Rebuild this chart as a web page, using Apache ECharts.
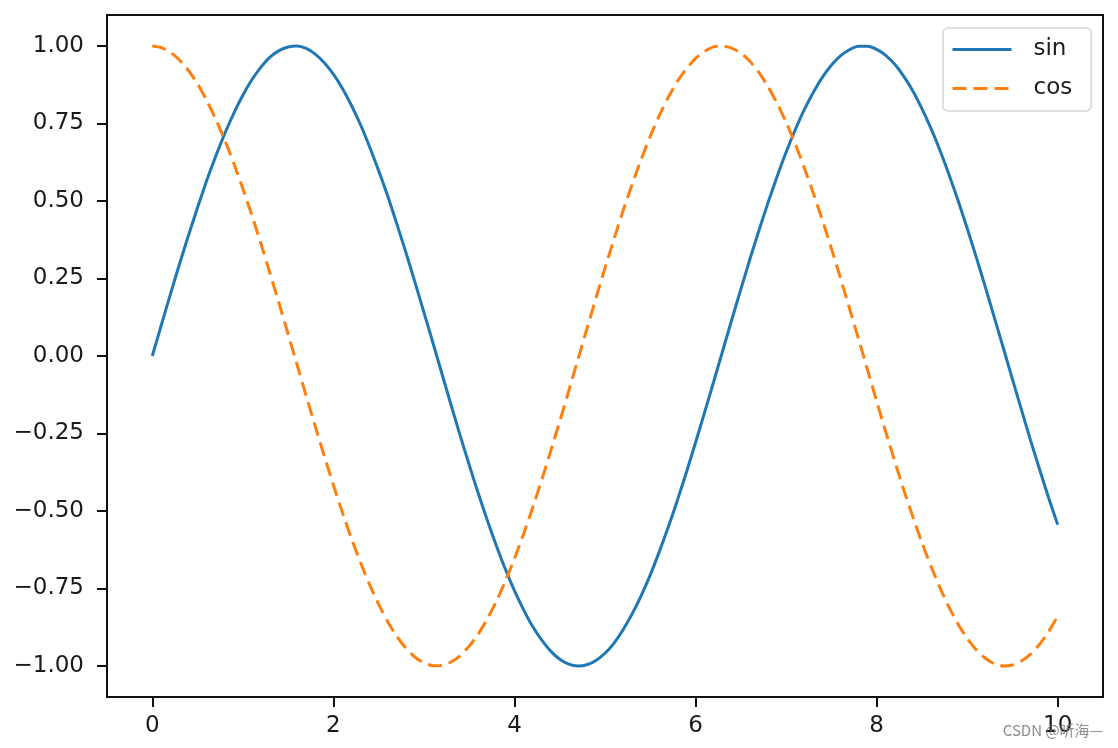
<!DOCTYPE html>
<html>
<head>
<meta charset="utf-8">
<script src="https://cdn.jsdelivr.net/npm/echarts@6/dist/echarts.min.js"></script>
<style>
html,body{margin:0;padding:0;background:#fff;}
#chart{width:1118px;height:748px;}
</style>
</head>
<body>
<div id="chart"></div>
<script>
const xValues = [0.0,0.1,0.2,0.3,0.4,0.5,0.6,0.7,0.8,0.9,1.0,1.1,1.2,1.3,1.4,1.5,1.6,1.7,1.8,1.9,2.0,2.1,2.2,2.3,2.4,2.5,2.6,2.7,2.8,2.9,3.0,3.1,3.2,3.3,3.4,3.5,3.6,3.7,3.8,3.9,4.0,4.1,4.2,4.3,4.4,4.5,4.6,4.7,4.8,4.9,5.0,5.1,5.2,5.3,5.4,5.5,5.6,5.7,5.8,5.9,6.0,6.1,6.2,6.3,6.4,6.5,6.6,6.7,6.8,6.9,7.0,7.1,7.2,7.3,7.4,7.5,7.6,7.7,7.8,7.9,8.0,8.1,8.2,8.3,8.4,8.5,8.6,8.7,8.8,8.9,9.0,9.1,9.2,9.3,9.4,9.5,9.6,9.7,9.8,9.9,10.0];
const sinValues = [0.000,0.100,0.199,0.296,0.389,0.479,0.565,0.644,0.717,0.783,0.841,0.891,0.932,0.964,0.985,0.997,1.000,0.992,0.974,0.946,0.909,0.863,0.808,0.746,0.675,0.598,0.516,0.427,0.335,0.239,0.141,0.042,-0.058,-0.158,-0.256,-0.351,-0.443,-0.530,-0.612,-0.688,-0.757,-0.818,-0.872,-0.916,-0.952,-0.978,-0.994,-1.000,-0.996,-0.982,-0.959,-0.926,-0.883,-0.832,-0.773,-0.706,-0.631,-0.551,-0.465,-0.374,-0.279,-0.182,-0.083,0.017,0.117,0.215,0.312,0.405,0.494,0.578,0.657,0.729,0.794,0.850,0.899,0.938,0.968,0.988,0.999,0.999,0.989,0.970,0.941,0.902,0.855,0.798,0.734,0.663,0.585,0.501,0.412,0.319,0.223,0.124,0.025,-0.075,-0.174,-0.272,-0.366,-0.458,-0.544];
const cosValues = [1.000,0.995,0.980,0.955,0.921,0.878,0.825,0.765,0.697,0.622,0.540,0.454,0.362,0.267,0.170,0.071,-0.029,-0.129,-0.227,-0.323,-0.416,-0.505,-0.589,-0.666,-0.737,-0.801,-0.857,-0.904,-0.942,-0.971,-0.990,-0.999,-0.998,-0.987,-0.967,-0.936,-0.897,-0.848,-0.791,-0.726,-0.654,-0.575,-0.490,-0.401,-0.307,-0.211,-0.112,-0.012,0.087,0.187,0.284,0.378,0.469,0.554,0.635,0.709,0.776,0.835,0.886,0.927,0.960,0.983,0.997,1.000,0.993,0.977,0.951,0.915,0.869,0.816,0.754,0.685,0.608,0.526,0.439,0.347,0.252,0.154,0.055,-0.045,-0.146,-0.244,-0.340,-0.432,-0.519,-0.602,-0.678,-0.748,-0.811,-0.865,-0.911,-0.948,-0.975,-0.993,-1.000,-0.997,-0.984,-0.962,-0.930,-0.889,-0.839];
const seriesNames = ['sin', 'cos'];
const xTicks = [0, 2, 4, 6, 8, 10];
const yTicks = [-1.00, -0.75, -0.50, -0.25, 0.00, 0.25, 0.50, 0.75, 1.00];
const watermarkText = 'CSDN @听海—';

const chart = echarts.init(document.getElementById('chart'), null, {renderer: 'canvas'});
const fontFamily = '"DejaVu Sans", sans-serif';
const fmtY = v => v.toFixed(2).replace('-', '\u2212');

const option = {
  animation: false,
  backgroundColor: '#ffffff',
  grid: {
    left: 107, right: 15, top: 15, bottom: 51,
    show: true, borderColor: '#111', borderWidth: 2, backgroundColor: 'transparent',
    containLabel: false, outerBoundsMode: 'none'
  },
  xAxis: {
    type: 'value', min: -0.5, max: 10.5,
    axisLine: {show: true, onZero: false, lineStyle: {color: '#111', width: 2}},
    splitLine: {show: false},
    axisTick: {show: true, customValues: xTicks, length: 10, lineStyle: {color: '#111', width: 2}},
    axisLabel: {customValues: xTicks, margin: 18, color: '#1a1a1a', fontSize: 23, fontFamily: fontFamily,
      formatter: v => String(v)}
  },
  yAxis: {
    type: 'value', min: -1.1, max: 1.1,
    axisLine: {show: true, onZero: false, lineStyle: {color: '#111', width: 2}},
    splitLine: {show: false},
    axisTick: {show: true, customValues: yTicks, length: 10, lineStyle: {color: '#111', width: 2}},
    axisLabel: {customValues: yTicks, margin: 23, color: '#1a1a1a', fontSize: 23, fontFamily: fontFamily,
      formatter: fmtY}
  },
  legend: {
    orient: 'vertical',
    left: 943, top: 28,
    padding: [9, 19, 10, 8],
    itemGap: 14,
    itemWidth: 59, itemHeight: 22,
    backgroundColor: 'rgba(255,255,255,0.8)',
    borderColor: '#d6d6d6', borderWidth: 1.5, borderRadius: 5,
    itemStyle: {opacity: 0},
    lineStyle: {width: 3},
    textStyle: {fontSize: 23, fontFamily: fontFamily, color: '#1a1a1a', padding: [3, 0, 0, 17], lineHeight: 22},
    data: seriesNames
  },
  series: [
    {
      name: seriesNames[0], type: 'line', symbol: 'none', showSymbol: false, smooth: 0.2,
      data: xValues.map((x, i) => [x, sinValues[i]]),
      lineStyle: {color: '#1f77b4', width: 3},
      itemStyle: {color: '#1f77b4'}
    },
    {
      name: seriesNames[1], type: 'line', symbol: 'none', showSymbol: false, smooth: 0.2,
      data: xValues.map((x, i) => [x, cosValues[i]]),
      lineStyle: {color: '#ff7f0e', width: 3, type: [14, 7]},
      itemStyle: {color: '#ff7f0e'}
    }
  ],
  graphic: [
    {
      type: 'text', right: 15, top: 723, z: 100,
      style: {text: watermarkText, fill: 'rgba(120,120,120,0.85)', fontSize: 15,
        fontFamily: '"Noto Sans CJK SC", "Noto Sans", sans-serif'}
    }
  ]
};
chart.setOption(option);
</script>
</body>
</html>
